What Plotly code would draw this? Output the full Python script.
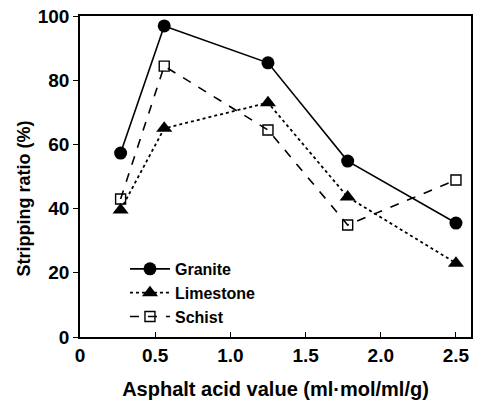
import plotly.graph_objects as go

# asphalt acid value (ml·mol/ml/g)
acid_value = [0.27, 0.56, 1.25, 1.78, 2.50]

granite = [57.3, 96.9, 85.4, 54.8, 35.5]
limestone = [39.6, 65.0, 73.0, 43.6, 23.0]
schist = [43.0, 84.4, 64.5, 34.9, 48.9]

fig = go.Figure()

fig.add_trace(go.Scatter(x=acid_value, y=granite, name='Granite', mode='lines+markers',
                         line=dict(color='black', width=1.6),
                         marker=dict(symbol='circle', size=13, color='black')))
fig.add_trace(go.Scatter(x=acid_value, y=limestone, name='Limestone', mode='lines+markers',
                         line=dict(color='black', width=1.8, dash='dot'),
                         marker=dict(symbol='triangle-up', size=14, color='black')))
fig.add_trace(go.Scatter(x=acid_value, y=schist, name='Schist', mode='lines+markers',
                         line=dict(color='black', width=1.6, dash='dash'),
                         marker=dict(symbol='square-open', size=10, color='black',
                                     line=dict(width=1.4))))

font_name = 'Liberation Sans'

fig.update_layout(
    width=477, height=401,
    margin=dict(l=80, r=6, t=16, b=64),
    paper_bgcolor='white', plot_bgcolor='white',
    font=dict(family=font_name, color='black'),
    showlegend=True,
    legend=dict(x=0.115, y=0.265, xanchor='left', yanchor='top',
                bgcolor='rgba(0,0,0,0)',
                font=dict(size=16, family=font_name, weight='bold'),
                tracegroupgap=0, itemwidth=40),
)

# y title as annotation, it sits a bit below the middle in the original
fig.add_annotation(text='<b>Stripping ratio (%)</b>', textangle=-90,
                   xref='paper', yref='paper', x=-0.175, y=0.43,
                   showarrow=False, font=dict(size=18, family=font_name))

fig.update_xaxes(range=[0, 2.6], tickvals=[0, 0.5, 1.0, 1.5, 2.0, 2.5],
                 ticktext=['0', '0.5', '1.0', '1.5', '2.0', '2.5'],
                 ticks='inside', ticklen=5, tickcolor='black',
                 showline=True, linecolor='black', linewidth=1.5, mirror=True,
                 showgrid=False, zeroline=False, automargin=False,
                 ticklabeloverflow='allow',
                 tickfont=dict(size=19, family=font_name, weight='bold'),
                 title=dict(text='<b>Asphalt acid value (ml·mol/ml/g)</b>',
                            font=dict(size=20), standoff=17))

fig.update_yaxes(range=[0, 100], tickvals=[0, 20, 40, 60, 80, 100],
                 ticks='outside', ticklen=5, tickcolor='black',
                 showline=True, linecolor='black', linewidth=1.5, mirror=True,
                 showgrid=False, zeroline=False, automargin=False,
                 ticklabeloverflow='allow',
                 tickfont=dict(size=19, family=font_name, weight='bold'))

# drop the default 8px body margin so the figure sits at the page corner
fig.write_html("out.html", config={'displayModeBar': False},
               post_script="document.body.style.margin = '0';")
